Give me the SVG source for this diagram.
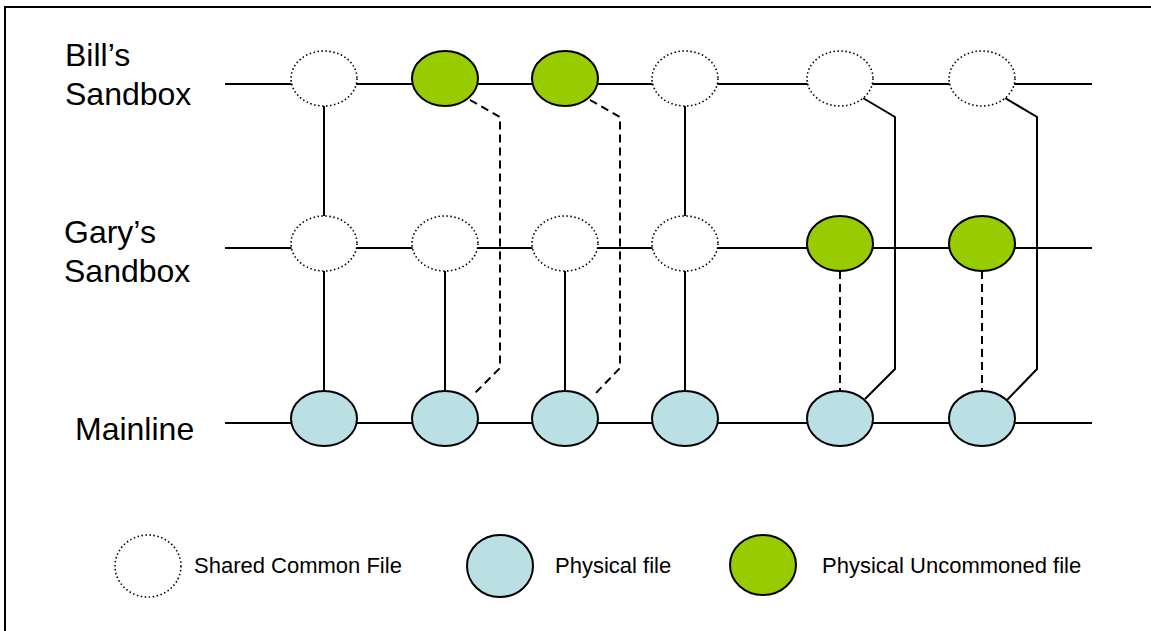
<svg xmlns="http://www.w3.org/2000/svg" width="1151" height="631" viewBox="0 0 1151 631">
<style>
.frame{fill:#fff;stroke:#000;stroke-width:2}
.ln{fill:none;stroke:#000;stroke-width:2}
.dash{fill:none;stroke:#000;stroke-width:2;stroke-dasharray:8,5}
.shared{fill:#fff;stroke:#000;stroke-width:1.6;stroke-dasharray:1.5,2.5}
.phys{fill:#BBE0E3;stroke:#000;stroke-width:2}
.unc{fill:#99CC00;stroke:#000;stroke-width:2}
.lbl{font-family:"Liberation Sans",Arial,sans-serif;font-size:32px;fill:#000}
.leg{font-family:"Liberation Sans",Arial,sans-serif;font-size:22px;fill:#000}
</style>
<rect class="frame" x="5" y="7" width="1170" height="650"/>
<g id="labels">
<text class="lbl" x="65" y="66">Bill’s</text>
<text class="lbl" x="65" y="105">Sandbox</text>
<text class="lbl" x="64" y="243">Gary’s</text>
<text class="lbl" x="64" y="282">Sandbox</text>
<text class="lbl" x="75" y="440">Mainline</text>
</g>
<g id="connectors">
<line class="ln" x1="225" y1="84" x2="1092" y2="84"/>
<line class="ln" x1="225" y1="248" x2="1092" y2="248"/>
<line class="ln" x1="225" y1="423" x2="1092" y2="423"/>
<line class="ln" x1="324" y1="106" x2="324" y2="216"/>
<line class="ln" x1="324" y1="271" x2="324" y2="391"/>
<line class="ln" x1="445" y1="271" x2="445" y2="391"/>
<line class="ln" x1="565" y1="271" x2="565" y2="391"/>
<line class="ln" x1="685" y1="106" x2="685" y2="216"/>
<line class="ln" x1="685" y1="271" x2="685" y2="391"/>
<line class="dash" x1="840" y1="271" x2="840" y2="391"/>
<line class="dash" x1="982" y1="271" x2="982" y2="391"/>
<polyline class="dash" points="470,100 500,117 500,368 475,393"/>
<polyline class="dash" points="590,100 620,117 620,368 596,393"/>
<polyline class="ln" points="863,98 895,117 895,369 865,399"/>
<polyline class="ln" points="1005,98 1037,117 1037,369 1007,400"/>
</g>
<g id="bill-1"><ellipse class="shared" cx="324" cy="78.5" rx="33" ry="27.5"/></g>
<g id="bill-2"><ellipse class="unc" cx="445" cy="78.5" rx="33" ry="27.5"/></g>
<g id="bill-3"><ellipse class="unc" cx="565" cy="78.5" rx="33" ry="27.5"/></g>
<g id="bill-4"><ellipse class="shared" cx="685" cy="78.5" rx="33" ry="27.5"/></g>
<g id="bill-5"><ellipse class="shared" cx="840" cy="78.5" rx="33" ry="27.5"/></g>
<g id="bill-6"><ellipse class="shared" cx="982" cy="78.5" rx="33" ry="27.5"/></g>
<g id="gary-1"><ellipse class="shared" cx="324" cy="243.5" rx="33" ry="27.5"/></g>
<g id="gary-2"><ellipse class="shared" cx="445" cy="243.5" rx="33" ry="27.5"/></g>
<g id="gary-3"><ellipse class="shared" cx="565" cy="243.5" rx="33" ry="27.5"/></g>
<g id="gary-4"><ellipse class="shared" cx="685" cy="243.5" rx="33" ry="27.5"/></g>
<g id="gary-5"><ellipse class="unc" cx="840" cy="243.5" rx="33" ry="27.5"/></g>
<g id="gary-6"><ellipse class="unc" cx="982" cy="243.5" rx="33" ry="27.5"/></g>
<g id="main-1"><ellipse class="phys" cx="324" cy="418.5" rx="33" ry="27.5"/></g>
<g id="main-2"><ellipse class="phys" cx="445" cy="418.5" rx="33" ry="27.5"/></g>
<g id="main-3"><ellipse class="phys" cx="565" cy="418.5" rx="33" ry="27.5"/></g>
<g id="main-4"><ellipse class="phys" cx="685" cy="418.5" rx="33" ry="27.5"/></g>
<g id="main-5"><ellipse class="phys" cx="840" cy="418.5" rx="33" ry="27.5"/></g>
<g id="main-6"><ellipse class="phys" cx="982" cy="418.5" rx="33" ry="27.5"/></g>
<g id="legend-shared"><ellipse class="shared" cx="148" cy="566" rx="33" ry="31"/><text class="leg" x="194" y="573">Shared Common File</text></g>
<g id="legend-physical"><ellipse class="phys" cx="500" cy="566" rx="33" ry="31"/><text class="leg" x="555" y="573">Physical file</text></g>
<g id="legend-uncommoned"><ellipse class="unc" cx="763" cy="565" rx="33" ry="30"/><text class="leg" x="822" y="573">Physical Uncommoned file</text></g>
</svg>
